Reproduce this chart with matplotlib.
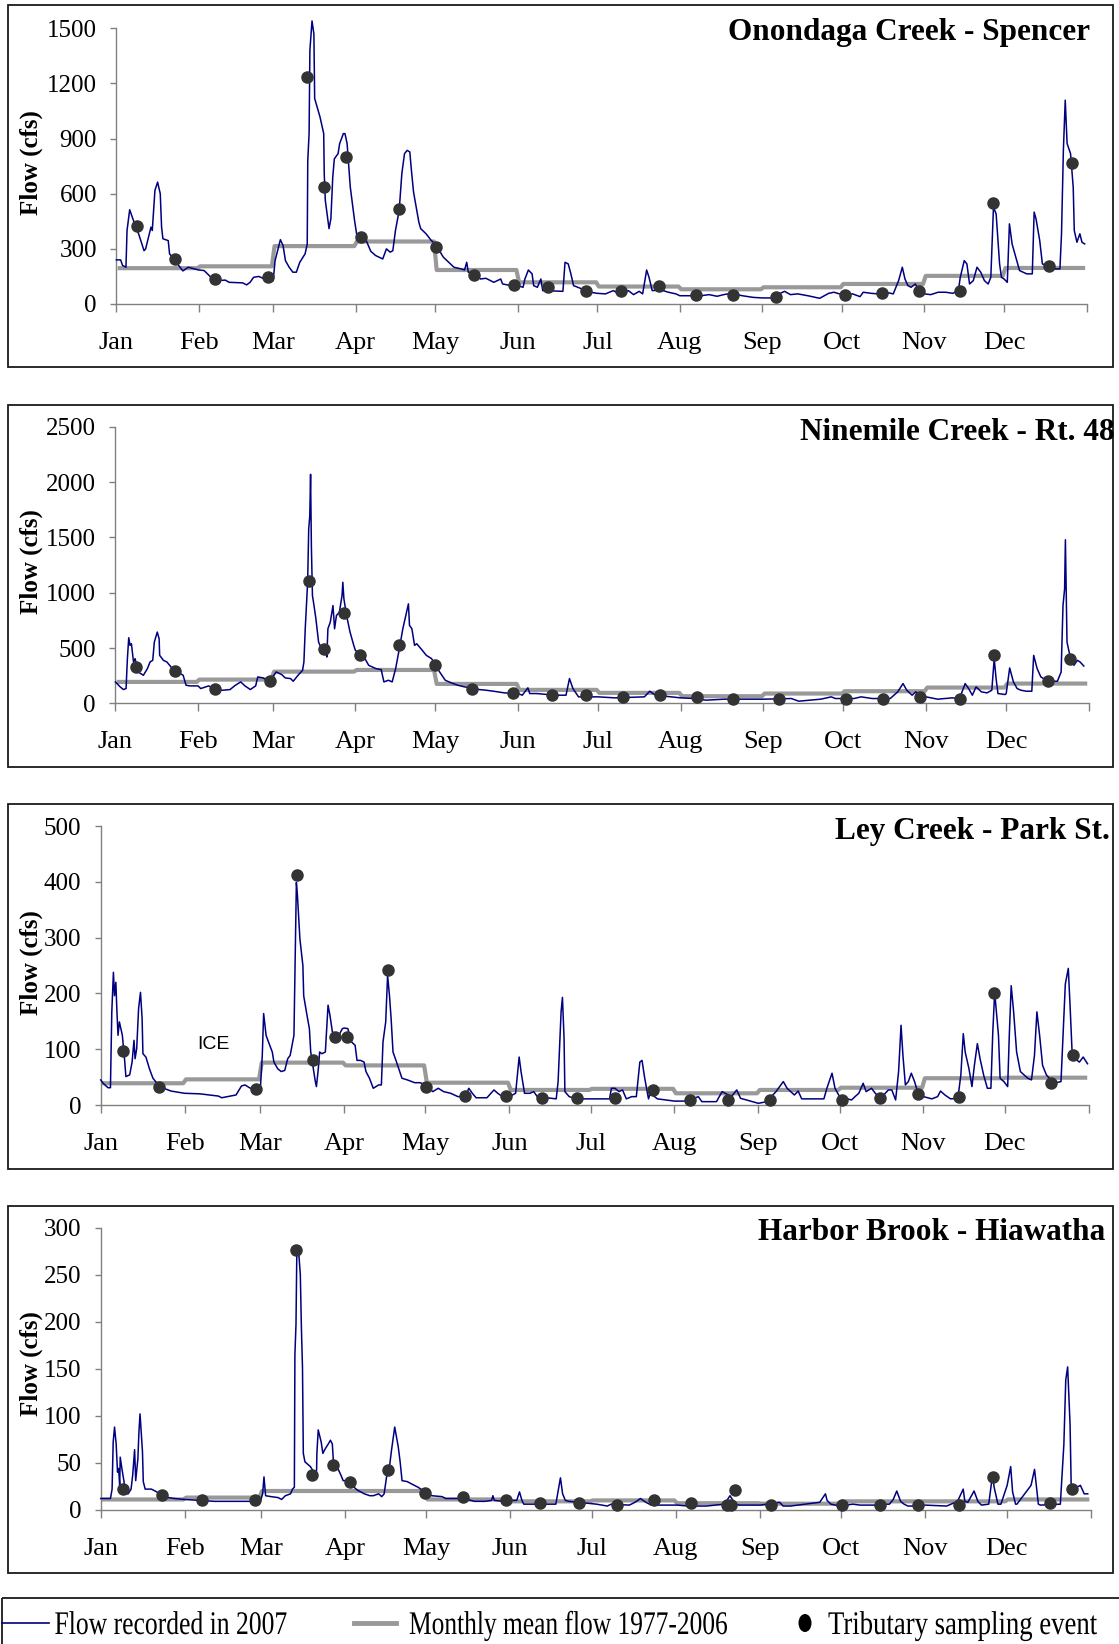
import numpy as np
import matplotlib
matplotlib.use("Agg")
import matplotlib.pyplot as plt
from matplotlib.patches import Rectangle, Ellipse, PathPatch
from matplotlib.lines import Line2D
from matplotlib.textpath import TextPath
from matplotlib.font_manager import FontProperties
from matplotlib.transforms import Affine2D

plt.rcParams['font.family'] = ['Liberation Serif', 'DejaVu Serif']

W, H = 1119, 1644

months = ['Jan', 'Feb', 'Mar', 'Apr', 'May', 'Jun', 'Jul', 'Aug', 'Sep', 'Oct', 'Nov', 'Dec']
month_days = [31, 28, 31, 30, 31, 30, 31, 31, 30, 31, 30, 31]

# daily flow, (day of year, cfs)
ono_flow = [
    (0, 240), (1.6, 240), (2.3, 210), (3.6, 200), (4, 400), (5, 513), (6.4, 455), (8.4, 380), (10.4, 290),
    (11, 300), (13, 418), (13.5, 400), (14.5, 618), (15.5, 663), (16.5, 600), (17, 418), (17.5, 355),
    (19.5, 345), (20, 273), (21.5, 245), (23, 218), (25, 180), (27, 200), (31, 185), (33, 182), (35.6, 145),
    (37.5, 127), (41, 130), (42.4, 118), (47.5, 115), (49, 104), (50.3, 118), (51.6, 145), (53.6, 150),
    (55.7, 136), (57, 150), (59, 127), (59.7, 236), (61.7, 350), (62.7, 318), (63.6, 236), (65, 200),
    (66.4, 173), (67.7, 173), (69, 227), (71, 273), (71.8, 327), (72, 780), (72.5, 927), (72.8, 1380),
    (73.6, 1540), (74.3, 1470), (74.6, 1118), (76.6, 1018), (78, 927), (78.2, 709), (78.6, 564), (80, 410),
    (80.7, 464), (81.4, 690), (82, 790), (83.4, 818), (84, 873), (85.4, 927), (86, 927), (86.8, 873),
    (88, 636), (89.6, 455), (90.5, 370), (91.6, 350), (94, 345), (95.7, 287), (97.5, 264), (100.2, 245),
    (101.6, 300), (103, 282), (104, 290), (105, 400), (106.4, 510), (107.4, 710), (108.4, 818), (109.4, 836),
    (110.4, 827), (111, 727), (111.8, 609), (113.8, 445), (114.5, 410), (116.5, 382), (118.5, 345),
    (120, 327), (123, 255), (125.7, 218), (127, 200), (129.7, 191), (131, 185), (131.8, 227), (132.4, 173),
    (135, 164), (137, 136), (139, 140), (142, 118), (144.6, 136), (145.3, 109), (148.6, 100), (151, 100),
    (153, 91), (153.7, 136), (155, 185), (156.4, 164), (157, 100), (158.4, 91), (159.7, 136), (160.4, 73),
    (168, 69), (168.8, 227), (170, 218), (171, 164), (172, 100), (174.3, 87), (177, 67), (181, 58),
    (184, 55), (187, 73), (189, 55), (192.6, 73), (194.6, 51), (196.7, 69), (198, 55), (199.5, 185),
    (200.4, 145), (201.6, 73), (205, 76), (207.7, 64), (210.5, 55), (212, 45), (220, 45), (223, 51),
    (226, 42), (228.5, 51), (231.3, 58), (235.5, 45), (239.6, 36), (243, 33), (246.6, 33), (249.4, 55),
    (251.4, 69), (253.6, 51), (256.4, 55), (260.5, 44), (264.6, 31), (268, 58), (270, 64), (273, 51),
    (277, 55), (279.8, 40), (281, 64), (284, 58), (286.7, 55), (289.5, 64), (292.3, 55), (294.3, 127),
    (295.7, 200), (296.7, 136), (297.8, 100), (299, 91), (300.6, 109), (302, 73), (304, 55), (306.4, 51),
    (309.2, 64), (312, 64), (314.7, 58), (316.8, 73), (317.5, 145), (319, 236), (320, 218), (321, 109),
    (322.4, 127), (323.8, 200), (325.2, 173), (326.6, 127), (328, 109), (329, 145), (330, 527), (331, 490),
    (332.3, 218), (333, 145), (334, 136), (335.2, 118), (336, 436), (337, 327), (338.4, 255), (339.8, 182),
    (342.5, 164), (344.6, 164), (345.3, 500), (346, 464), (347.4, 345), (348.4, 218), (350, 209),
    (352.8, 191), (355, 191), (355.6, 382), (356.3, 836), (357, 1109), (357.7, 873), (359, 818), (360, 636),
    (360.4, 400), (361.4, 336), (362.5, 382), (363.3, 336), (364.3, 327)]
ono_mean = [195, 205, 315, 340, 185, 118, 95, 80, 91, 109, 153, 196]
ono_samples = [
    (7.8, 427), (22, 244), (37.2, 135), (57, 147), (71.9, 1236), (78, 636), (86.3, 800), (92, 364),
    (106.3, 515), (120.2, 309), (134.5, 158), (149.6, 104), (162.3, 91), (176.5, 69), (190, 69), (204, 100),
    (218, 47), (232, 51), (248, 40), (274.3, 47), (288, 58), (302, 69), (317.5, 69), (330, 551), (351, 209),
    (359.5, 767)]

nine_flow = [
    (0, 195), (1.8, 150), (3, 126), (4, 135), (4.5, 405), (5, 594), (5.5, 525), (6, 540), (6.8, 375),
    (7.4, 405), (8.5, 285), (10.5, 255), (12, 315), (13, 375), (14, 390), (14.6, 555), (15.7, 645),
    (16.4, 585), (16.6, 435), (18, 390), (19.3, 375), (21.4, 315), (23.4, 285), (25.4, 255), (26.5, 165),
    (28, 159), (31, 159), (32, 135), (35, 159), (37.7, 120), (40.4, 120), (43, 126), (45, 165), (47, 195),
    (48.6, 159), (50.6, 126), (52.6, 159), (53.4, 240), (55.4, 231), (58, 195), (59, 240), (60.3, 285),
    (62.4, 261), (63.7, 231), (65.7, 225), (66.7, 201), (68.5, 255), (70.2, 300), (70.7, 375), (71.2, 675),
    (72.1, 1095), (72.5, 1575), (72.9, 1695), (73.2, 2070), (73.5, 1425), (73.9, 975), (74.3, 915),
    (75.2, 765), (76.2, 555), (77.3, 495), (78.9, 465), (79.3, 420), (79.7, 675), (80.6, 735), (81.6, 885),
    (82.2, 675), (82.9, 795), (84, 825), (85, 975), (85.3, 1095), (85.7, 945), (86.7, 795), (88, 645),
    (89.4, 525), (90, 480), (92.3, 435), (93.6, 405), (95, 345), (97.7, 315), (99.7, 306), (100.7, 195),
    (102.4, 210), (103.8, 195), (105.1, 315), (106.5, 495), (107.8, 675), (109.2, 825), (109.9, 900),
    (110.3, 705), (111.2, 675), (112.2, 525), (113, 540), (114.6, 495), (116.6, 435), (118.6, 405),
    (120, 345), (121.6, 285), (123.7, 210), (125.7, 189), (128.4, 165), (131, 150), (133.7, 141),
    (136.4, 126), (139, 120), (141.8, 111), (145.9, 96), (151, 90), (152.6, 75), (154.7, 141), (155.4, 90),
    (158, 90), (164.8, 75), (169, 75), (170.3, 225), (171.6, 135), (173.7, 60), (181, 60), (187.4, 51),
    (198.4, 60), (200.4, 111), (202.5, 75), (212, 51), (217.3, 45), (221.5, 30), (228.3, 39), (236.5, 39),
    (243, 39), (253.5, 45), (256.3, 21), (264.5, 39), (268.5, 60), (270, 45), (277, 45), (279.7, 60),
    (283.8, 45), (290.6, 45), (293.4, 105), (295.4, 180), (296.8, 120), (298.8, 75), (300.2, 105),
    (302.2, 75), (304, 60), (308.4, 39), (313.9, 51), (316.6, 45), (318.7, 180), (320, 135), (321.4, 75),
    (322.8, 150), (324.8, 105), (326.9, 96), (328.7, 120), (329.6, 405), (330.3, 225), (331, 90),
    (333.7, 81), (334.1, 90), (335.4, 321), (336.8, 195), (338.2, 135), (339.6, 120), (341.6, 111),
    (343.7, 111), (344.4, 435), (345.7, 315), (347.1, 240), (348.5, 219), (350.5, 201), (353.3, 201),
    (354.7, 285), (355.4, 885), (356, 1035), (356.3, 1479), (356.9, 555), (358.1, 420), (359.5, 345),
    (360.8, 390), (361.8, 375), (363.2, 339)]
nine_mean = [195, 216, 288, 303, 177, 123, 96, 66, 90, 111, 144, 180]
nine_samples = [
    (7.8, 330), (22.2, 294), (37.4, 129), (57.8, 204), (72.7, 1104), (78.1, 495), (85.8, 816), (91.9, 441),
    (106.2, 531), (120, 351), (133.8, 135), (149, 99), (163.6, 75), (176.5, 81), (190.3, 60), (204.3, 81),
    (218.2, 60), (231.7, 45), (248.8, 45), (274, 45), (288, 39), (301.8, 60), (316.6, 45), (329.6, 441),
    (349.8, 204), (358.1, 405)]

ley_flow = [
    (0, 45), (0.9, 39), (2.7, 31), (3.6, 31), (4.1, 167), (4.7, 238), (5.1, 196), (5.6, 220), (6, 167),
    (6.4, 125), (6.9, 149), (8, 125), (8.9, 77), (9.3, 51), (10.7, 54), (11.6, 77), (12.3, 116), (12.7, 83),
    (13.3, 101), (14, 173), (14.7, 202), (15.3, 155), (15.6, 92), (16.7, 86), (18, 65), (19.3, 48),
    (21.3, 36), (23.3, 30), (26, 25), (31, 21), (36.7, 20), (43.5, 16), (44.7, 13), (50, 18), (52, 34),
    (53.3, 36), (55.3, 30), (57.3, 33), (59, 30), (59.7, 89), (60.2, 164), (61.1, 125), (62, 113),
    (63.4, 95), (64, 77), (65.4, 65), (66.7, 60), (68, 62), (69.1, 83), (70, 89), (70.7, 107), (71.4, 125),
    (71.8, 244), (72.3, 399), (72.7, 375), (73.6, 298), (74.7, 250), (75, 196), (76, 167), (77.1, 137),
    (77.6, 95), (78.7, 60), (79.3, 42), (79.7, 33), (80.4, 65), (80.9, 95), (81.7, 92), (83, 95),
    (83.5, 137), (84, 179), (84.7, 161), (85.6, 131), (86.7, 128), (88, 125), (89.3, 137), (90, 138),
    (91.3, 137), (92.7, 113), (94, 107), (94.7, 80), (96, 80), (97.3, 77), (98, 60), (99.3, 48),
    (100.7, 30), (102.7, 36), (103.7, 36), (104.3, 113), (105.3, 149), (106, 232), (106.7, 196),
    (107.3, 155), (108, 95), (109.3, 77), (111.3, 48), (113.3, 45), (116, 40), (118, 40), (120, 36),
    (121.3, 30), (122.7, 24), (124.7, 30), (126.7, 24), (129.3, 21), (132, 15), (134.7, 15), (136, 30),
    (137.3, 21), (138.7, 13), (142.7, 13), (145.3, 27), (146.7, 21), (149.3, 12), (151, 15), (153.3, 21),
    (154.6, 86), (155.3, 60), (156.6, 21), (158.6, 21), (160, 24), (161.3, 15), (168.3, 11), (169, 42),
    (170.1, 167), (170.6, 193), (171.2, 119), (171.5, 24), (173.1, 15), (175.8, 11), (182.6, 11), (188, 11),
    (188.7, 30), (190, 30), (191.5, 24), (192.8, 27), (194.2, 11), (196.2, 15), (197.9, 15), (199.2, 77),
    (200, 80), (201, 48), (202.4, 11), (203, 21), (205.7, 11), (212, 7), (216.7, 7), (220.8, 15), (222.1, 6),
    (227.5, 6), (229.6, 24), (233, 15), (235, 27), (236.4, 12), (243, 3), (246.1, 6), (249.5, 24),
    (252.2, 42), (253.6, 30), (256.3, 18), (257.7, 25), (259, 11), (267.2, 11), (268.3, 30), (270.2, 57),
    (271.3, 30), (273, 15), (277.4, 9), (278.7, 15), (280.1, 21), (281.7, 39), (282.8, 24), (284.8, 30),
    (286.2, 21), (288.2, 12), (291, 27), (292.3, 27), (293.7, 9), (294.8, 60), (295.7, 143), (296.4, 89),
    (297.3, 36), (298.4, 42), (299.5, 57), (300.7, 42), (301.8, 24), (304, 15), (307.1, 11), (309.2, 15),
    (310.3, 25), (311.9, 18), (314, 11), (316.7, 12), (317.8, 54), (318.7, 128), (319.4, 95), (320.8, 65),
    (321.9, 33), (322.8, 71), (323.9, 110), (324.9, 83), (326.2, 54), (327.6, 30), (328.9, 30), (329.6, 131),
    (330.3, 202), (331.7, 125), (332.3, 48), (333.7, 42), (335.1, 33), (335.7, 125), (336.4, 214),
    (337.3, 167), (338.4, 95), (339.8, 60), (342.5, 48), (343.9, 45), (345, 89), (345.9, 167), (346.9, 125),
    (348, 71), (349.4, 54), (352.1, 39), (354.8, 42), (355.5, 119), (356.4, 217), (357.5, 245), (358.2, 173),
    (358.9, 95), (360, 83), (361.6, 77), (363, 86), (364.6, 74)]
ley_mean = [39, 46, 76, 71, 40, 27, 29, 21, 27, 31, 48, 49]
ley_samples = [
    (8.1, 97), (21.7, 33), (57.5, 29), (72.4, 412), (78.5, 80), (86.7, 122), (91, 122), (106.3, 243),
    (120.3, 33), (134.5, 16), (149.7, 16), (163.1, 12), (175.8, 12), (190, 12), (204.2, 27), (217.8, 9),
    (231.7, 9), (247.4, 9), (274, 9), (288, 12), (301.9, 19), (317.2, 15), (329.9, 201), (351.1, 40),
    (359.3, 90)]

hb_flow = [
    (0, 12), (3.6, 12), (4.2, 22), (4.6, 72), (5.1, 88), (5.7, 70), (6.2, 40), (6.6, 44), (7, 26), (7.2, 56),
    (7.8, 44), (8.6, 30), (9.1, 17), (10.1, 17), (11.2, 22), (11.8, 37), (12.5, 64), (12.9, 31), (13.7, 54),
    (14.1, 83), (14.5, 102), (15, 79), (15.4, 62), (15.7, 30), (16.4, 22), (18.7, 22), (20.7, 19),
    (22.6, 14), (27.2, 12), (31, 11), (36.7, 10), (42, 9), (48.6, 9), (55.2, 9), (59, 10), (59.7, 17),
    (60.2, 35), (60.8, 15), (62.8, 14), (65.4, 13), (66.7, 11), (68.1, 15), (70, 17), (70.7, 22), (71.4, 24),
    (71.6, 165), (72, 197), (72.3, 272), (73.1, 270), (73.6, 250), (74, 193), (74.4, 151), (74.7, 60),
    (75.3, 51), (77.3, 46), (78.6, 40), (79.6, 42), (79.7, 60), (80.2, 85), (81.3, 72), (81.9, 60),
    (82.8, 65), (83.9, 70), (84.7, 74), (85.4, 70), (85.8, 51), (87.1, 46), (88.4, 38), (89.4, 31), (90, 31),
    (91.3, 30), (92.6, 26), (94.6, 21), (97.2, 17), (99.2, 15), (100.5, 15), (102.5, 17), (103.6, 14),
    (104.5, 17), (105.4, 35), (106.4, 44), (107.2, 63), (108.4, 88), (109.7, 67), (110.4, 51), (111.1, 31),
    (113, 30), (114.3, 28), (117, 24), (119.6, 19), (120, 18), (122, 15), (125.9, 14), (127.2, 12),
    (133.8, 12), (137.8, 9), (141.7, 9), (144.1, 10), (144.6, 15), (145.1, 10), (148.3, 9), (151, 10),
    (153.4, 10), (154.4, 19), (155.3, 10), (156, 6), (159.9, 6), (167.8, 6), (168.6, 19), (169.5, 34),
    (170.3, 17), (171.3, 10), (172.6, 9), (176, 8), (182.8, 6), (186.8, 4), (188.2, 6), (194.9, 5),
    (197, 8), (199, 12), (201, 8), (203, 5), (212.6, 5), (216.5, 4), (223.3, 4), (230, 6), (232, 15),
    (234, 6), (235.4, 5), (243.2, 5), (250.3, 8), (251.6, 4), (254.3, 4), (265.1, 8), (267.2, 17),
    (267.8, 10), (269.2, 6), (272.5, 4), (277.3, 6), (280, 5), (282.7, 5), (285.4, 5), (288.1, 6),
    (290.8, 6), (292.2, 11), (293.5, 20), (294.9, 9), (296.2, 6), (297.6, 4), (300.3, 4), (304, 5),
    (311.9, 4), (315.9, 9), (318, 22), (318.6, 9), (319.7, 8), (322, 20), (323.4, 9), (324.7, 5),
    (327.4, 6), (328.8, 37), (329.4, 24), (330.8, 6), (331.9, 6), (334.2, 26), (335.5, 46), (336.2, 19),
    (337.3, 6), (337.8, 6), (343, 26), (344.3, 43), (345.7, 6), (346.5, 5), (353.8, 6), (355.1, 69),
    (355.8, 138), (356.5, 152), (357.4, 90), (357.8, 26), (358.7, 23), (359.9, 24), (361.2, 26),
    (362.6, 17), (363.9, 17)]
hb_mean = [11, 13, 20, 20, 11, 9, 10, 7, 6.5, 9, 9, 11]
hb_samples = [
    (8.4, 22), (22.5, 16), (37.3, 10), (57, 10), (72, 276), (77.9, 37), (85.7, 48), (92, 30), (106, 42),
    (119.6, 18), (133.6, 14), (149.3, 10), (162, 7.5), (176.3, 7.5), (190.2, 5), (204.1, 10), (217.8, 7.5),
    (231, 5), (232.5, 5), (233.7, 21), (247, 5), (273.4, 5), (287.3, 5), (301.2, 5), (316.6, 5),
    (329.1, 35), (350, 7.5), (358.2, 22)]

panels = [
    dict(name='Onondaga Creek - Spencer', flow=ono_flow, mean=ono_mean, samples=ono_samples,
         ymax=1500, step=300, frame=(5, 367), axes=(116.4, 28.3, 1086.5, 304.0),
         title=(1090.5, 39.8), ylab=162.5),
    dict(name='Ninemile Creek - Rt. 48', flow=nine_flow, mean=nine_mean, samples=nine_samples,
         ymax=2500, step=500, frame=(404.7, 767.5), axes=(115.4, 426.7, 1088.6, 703.5),
         title=(1115, 440.4), ylab=561.5),
    dict(name='Ley Creek - Park St.', flow=ley_flow, mean=ley_mean, samples=ley_samples,
         ymax=500, step=100, frame=(804.2, 1169), axes=(100.7, 826.2, 1088.6, 1105.0),
         title=(1110, 838.8), ylab=962.6),
    dict(name='Harbor Brook - Hiawatha', flow=hb_flow, mean=hb_mean, samples=hb_samples,
         ymax=300, step=50, frame=(1205.7, 1572.7), axes=(100.7, 1227.8, 1090.7, 1509.8),
         title=(1105, 1240.4), ylab=1364),
]

key_labels = ['Flow recorded in 2007', 'Monthly mean flow 1977-2006', 'Tributary sampling event']

FLOW_C = '#000080'
MEAN_C = '#999999'
DOT_C = '#333333'
AXIS_C = '#808080'

month_start = np.concatenate([[0], np.cumsum(month_days)])
mean_x = np.arange(365) + 0.5

fig = plt.figure(figsize=(W / 100, H / 100), dpi=100)

for p in panels:
    l, t, r, b = p['axes']
    ax = fig.add_axes([l / W, 1 - b / H, (r - l) / W, (b - t) / H])
    daily_mean = np.repeat(p['mean'], month_days)
    ax.plot(mean_x, daily_mean, color=MEAN_C, lw=3.0, solid_capstyle='butt', zorder=2)
    fd, fv = zip(*p['flow'])
    ax.plot(fd, fv, color=FLOW_C, lw=1.1, zorder=3, clip_on=False)
    sd, sv = zip(*p['samples'])
    ax.plot(sd, sv, 'o', color=DOT_C, ms=8, mec=DOT_C, zorder=4, clip_on=False)

    ax.set_xlim(0, 365)
    ax.set_ylim(0, p['ymax'])
    ax.set_xticks(month_start)
    ax.set_xticks(month_start[:-1] + 0.01, labels=months, minor=True)
    ax.tick_params(axis='x', which='major', labelbottom=False, length=6, width=1, color=AXIS_C, direction='out')
    ax.tick_params(axis='x', which='minor', length=0, pad=20, labelsize=19)
    ax.set_yticks(np.arange(0, p['ymax'] + 1, p['step']))
    ax.tick_params(axis='y', length=4, width=1, color=AXIS_C, pad=10, labelsize=18)
    for side in ('top', 'right'):
        ax.spines[side].set_visible(False)
    for side in ('left', 'bottom'):
        ax.spines[side].set_color(AXIS_C)
        ax.spines[side].set_linewidth(1.0)

# overlay in pixel units for frames, titles, labels and the key
ov = fig.add_axes([0, 0, 1, 1])
ov.set_xlim(0, W)
ov.set_ylim(H, 0)
ov.axis('off')
ov.patch.set_visible(False)

for p in panels:
    top, bot = p['frame']
    ov.add_patch(Rectangle((8.4, top), 1112.7 - 8.4, bot - top, fill=False, ec='#1a1a1a', lw=1.3))
    tx, ty = p['title']
    ov.text(tx, ty, p['name'], ha='right', va='baseline', fontsize=22.5, fontweight='bold', zorder=5)
    ov.text(31.5, p['ylab'], 'Flow (cfs)', rotation=90, ha='center', va='center',
            fontsize=18, fontweight='bold')

ov.text(213, 1044.3, 'ICE', family='Liberation Sans', fontsize=14, ha='center', va='center')


def narrow_text(x, baseline, s, width, size=33):
    # condensed serif text: glyph outlines squeezed to the given width
    tp = TextPath((0, 0), s, size=size, prop=FontProperties(family='Liberation Serif'))
    ext = tp.get_extents()
    sx = width / ext.x1
    tr = Affine2D().scale(sx, -1).translate(x, baseline) + ov.transData
    ov.add_patch(PathPatch(tp, transform=tr, fc='black', ec='none', lw=0))


# key strip along the bottom
ov.add_patch(Rectangle((2, 1598), 1140, 80, fill=False, ec='#1a1a1a', lw=1.3))
ky = 1623
ov.add_line(Line2D([2, 49], [ky, ky], color=FLOW_C, lw=1.2))
narrow_text(54.5, 1634, key_labels[0], 232)
ov.add_line(Line2D([354, 396], [ky, ky], color=MEAN_C, lw=3.5))
narrow_text(409, 1634, key_labels[1], 318)
ov.add_patch(Ellipse((805, ky), 13, 18, fc='black', ec='none'))
narrow_text(828, 1634, key_labels[2], 269)

fig.savefig('out.png', dpi=100)
